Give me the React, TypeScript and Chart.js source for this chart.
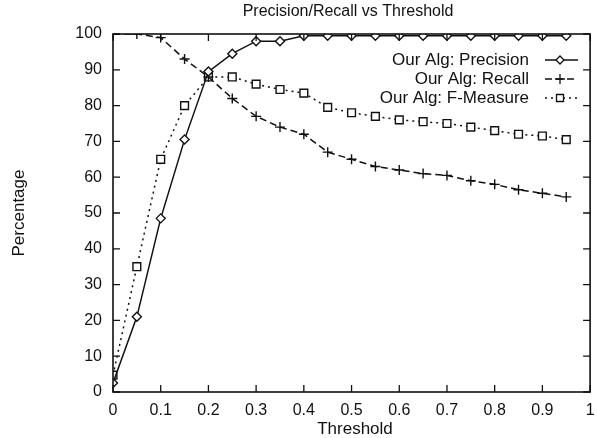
import React, { useEffect, useRef } from "react";
import { Chart, registerables } from "chart.js";

Chart.register(...registerables);

const thresholds = [0, 0.05, 0.1, 0.15, 0.2, 0.25, 0.3, 0.35, 0.4, 0.45, 0.5, 0.55, 0.6, 0.65, 0.7, 0.75, 0.8, 0.85, 0.9, 0.95];
const precision = [2.5, 21, 48.5, 70.5, 89.5, 94.5, 98, 98, 99.5, 99.5, 99.5, 99.5, 99.5, 99.5, 99.5, 99.5, 99.5, 99.5, 99.5, 99.5];
const recall = [100, 100, 99, 93, 88, 82, 77, 74, 72, 67, 65, 63, 62, 61, 60.5, 59, 58, 56.5, 55.5, 54.5];
const fMeasure = [4.7, 35, 65, 80, 88, 88, 86, 84.5, 83.5, 79.5, 78, 77, 76, 75.5, 75, 74, 73, 72, 71.5, 70.5];

const titleText = "Precision/Recall vs Threshold";
const xTitle = "Threshold";
const yTitle = "Percentage";
const seriesNames = ["Our Alg: Precision", "Our Alg: Recall", "Our Alg: F-Measure"];

const INK = "#111";
const FONT = "'Liberation Sans', Arial, sans-serif";

const toPts = (ys: number[]) => thresholds.map((x, i) => ({ x, y: ys[i] }));

const framePlugin = {
  id: "frame",
  afterDraw(chart: any) {
    const { ctx, chartArea: a } = chart;
    const xs = chart.scales.x;
    const ys = chart.scales.y;
    ctx.save();
    ctx.strokeStyle = INK;
    ctx.lineWidth = 1.6;
    ctx.setLineDash([]);
    ctx.strokeRect(a.left, a.top, a.right - a.left, a.bottom - a.top);
    ctx.lineWidth = 1.3;
    const tl = 7;
    xs.ticks.forEach((t: any) => {
      const px = xs.getPixelForValue(t.value);
      ctx.beginPath();
      ctx.moveTo(px, a.bottom);
      ctx.lineTo(px, a.bottom - tl);
      ctx.moveTo(px, a.top);
      ctx.lineTo(px, a.top + tl);
      ctx.stroke();
    });
    ys.ticks.forEach((t: any) => {
      const py = ys.getPixelForValue(t.value);
      ctx.beginPath();
      ctx.moveTo(a.left, py);
      ctx.lineTo(a.left + tl, py);
      ctx.moveTo(a.right, py);
      ctx.lineTo(a.right - tl, py);
      ctx.stroke();
    });

    ctx.fillStyle = INK;
    ctx.font = `16px ${FONT}`;
    ctx.textAlign = "center";
    ctx.textBaseline = "middle";
    ctx.fillText(titleText, 348, 12);
    ctx.font = `17px ${FONT}`;
    ctx.fillText(xTitle, 355, 429);
    ctx.save();
    ctx.translate(19, (a.top + a.bottom) / 2);
    ctx.rotate(-Math.PI / 2);
    ctx.fillText(yTitle, 0, 0);
    ctx.restore();

    // legend
    const rows = [60, 79, 98];
    const textRight = 529;
    const lx0 = 545;
    const lx1 = 578;
    const dashes = [[], [7, 4], [2, 4]];
    const styles = ["rectRot", "cross", "rect"];
    ctx.font = `17px ${FONT}`;
    ctx.textAlign = "right";
    rows.forEach((ry, i) => {
      ctx.fillStyle = INK;
      ctx.fillText(seriesNames[i], textRight, ry);
      ctx.setLineDash(dashes[i]);
      ctx.lineWidth = 1.3;
      ctx.strokeStyle = INK;
      ctx.beginPath();
      ctx.moveTo(lx0, ry);
      ctx.lineTo(lx1, ry);
      ctx.stroke();
      ctx.setLineDash([]);
      ctx.fillStyle = "#fff";
      const cx = 560;
      ctx.beginPath();
      if (styles[i] === "rectRot") {
        const r = 4;
        ctx.moveTo(cx, ry - r);
        ctx.lineTo(cx + r, ry);
        ctx.lineTo(cx, ry + r);
        ctx.lineTo(cx - r, ry);
        ctx.closePath();
        ctx.fill();
        ctx.stroke();
      } else if (styles[i] === "cross") {
        const r = 5;
        ctx.moveTo(cx - r, ry);
        ctx.lineTo(cx + r, ry);
        ctx.moveTo(cx, ry - r);
        ctx.lineTo(cx, ry + r);
        ctx.stroke();
      } else {
        const s = 3.5;
        ctx.rect(cx - s, ry - s, 2 * s, 2 * s);
        ctx.fill();
        ctx.stroke();
      }
    });
    ctx.restore();
  },
};

export default function App() {
  const ref = useRef<HTMLCanvasElement | null>(null);
  useEffect(() => {
    document.body.style.margin = "0";
    const canvas = ref.current;
    if (!canvas) return;
    const common = {
      borderColor: INK,
      pointBorderColor: INK,
      pointBackgroundColor: "#fff",
      borderWidth: 1.5,
      pointBorderWidth: 1.4,
      tension: 0,
      fill: false,
    };
    const chart = new Chart(canvas, {
      type: "line",
      data: {
        datasets: [
          { ...common, label: seriesNames[0], data: toPts(precision), pointStyle: "rectRot", pointRadius: 4.5 },
          { ...common, label: seriesNames[1], data: toPts(recall), pointStyle: "cross", pointRadius: 5, borderDash: [7, 4] },
          { ...common, label: seriesNames[2], data: toPts(fMeasure), pointStyle: "rect", pointRadius: 5.5, borderDash: [2, 4] },
        ],
      },
      options: {
        animation: false,
        responsive: false,
        maintainAspectRatio: false,
        layout: { padding: { top: 34, right: 1, left: 0, bottom: 0 } },
        plugins: { legend: { display: false }, tooltip: { enabled: false }, title: { display: false } },
        scales: {
          x: {
            type: "linear",
            min: 0,
            max: 1,
            ticks: {
              stepSize: 0.1,
              color: INK,
              font: { family: FONT, size: 16 },
              padding: 9,
              maxRotation: 0,
              autoSkip: false,
              callback: (v: any) => String(Number(Number(v).toFixed(1))),
            },
            grid: { display: false, drawTicks: false, tickLength: 0 },
            border: { display: false },
            afterFit: (s: any) => { s.height = 46; s.paddingLeft = 0; s.paddingRight = 0; },
          },
          y: {
            min: 0,
            max: 100,
            ticks: { stepSize: 10, color: INK, font: { family: FONT, size: 16 }, padding: 11 },
            grid: { display: false, drawTicks: false, tickLength: 0 },
            border: { display: false },
            afterFit: (s: any) => { s.width = 113; s.paddingTop = 0; s.paddingBottom = 0; },
          },
        },
      },
      plugins: [framePlugin],
    } as any);
    return () => chart.destroy();
  }, []);
  return (
    <div style={{ width: 597, height: 438 }}>
      <canvas ref={ref} width={597} height={438} style={{ display: "block" }} />
    </div>
  );
}
